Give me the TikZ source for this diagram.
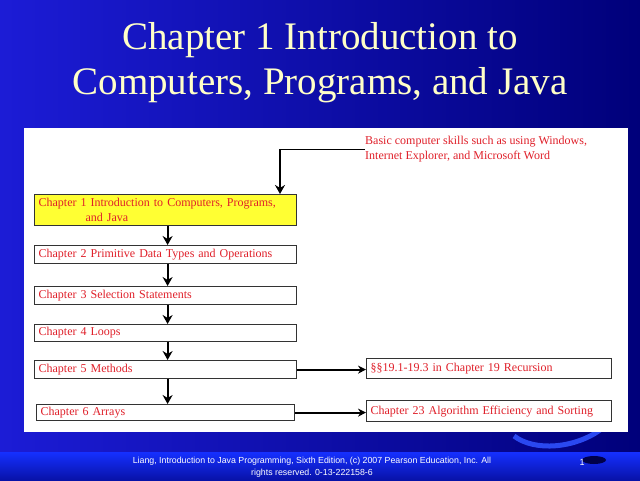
\documentclass[tikz,border=0pt]{standalone}
\usepackage{fontspec}
\setmainfont{Liberation Serif}
\newfontfamily\footfont{Liberation Sans}
\usetikzlibrary{arrows.meta}
\definecolor{bgleft}{HTML}{1C1CD6}
\definecolor{bgright}{HTML}{00007A}
\definecolor{titlecol}{HTML}{FFFFC8}
\definecolor{txtred}{HTML}{E0202A}
\definecolor{boxyellow}{HTML}{FFFF33}
\definecolor{bandtop}{HTML}{1530FF}
\definecolor{bandbot}{HTML}{0812A8}
\definecolor{swoosh}{HTML}{2A48F0}
\tikzset{
  chbox/.style={draw=black!80, line width=1.2pt, fill=white, anchor=north west,
    inner sep=0pt, font=\fontsize{12}{15}\selectfont, text=txtred},
  flowarrow/.style={line width=2pt, -{Stealth[length=9pt,width=10pt]}},
  sidearrow/.style={line width=1.8pt, -{Stealth[length=8pt,width=8pt]}},
  titletext/.style={text=titlecol, font=\fontsize{39}{45}\selectfont},
  foottext/.style={text=white, font=\footfont\fontsize{8.8}{12}\selectfont, align=center}
}
\begin{document}
\begin{tikzpicture}[x=1pt,y=-1pt]
\useasboundingbox (0,0) rectangle (640,480);
% background
\shade[left color=bgleft, right color=bgright] (0,0) rectangle (640,480);
\shade[top color=bandtop, bottom color=bandbot] (0,452) rectangle (640,480);
% swoosh
\draw[swoosh, line width=5pt] (514,436) .. controls (535,452) and (575,448) .. (600,430);
\fill[bgright!60!black] (594,460) ellipse (12pt and 4pt);
% title
\node[titletext] (t1) at (320,40) {Chapter 1 Introduction to};
\node[titletext] (t2) at (320,85) {Computers, Programs, and Java};
% white panel
\fill[white] (24,128) rectangle (628,432);
% chapter boxes
\node[chbox, fill=boxyellow, minimum width=262pt, minimum height=31pt, text width=258pt, align=left]
  (c1) at (34,194) {\hspace{2pt}Chapter 1 Introduction to Computers, Programs,\\\hspace{49pt}and Java};
\node[chbox, minimum width=262pt, minimum height=18pt, text width=258pt, align=left]
  (c2) at (34,245) {\hspace{2pt}Chapter 2 Primitive Data Types and Operations};
\node[chbox, minimum width=262pt, minimum height=18pt, text width=258pt, align=left]
  (c3) at (34,286) {\hspace{2pt}Chapter 3 Selection Statements};
\node[chbox, minimum width=262pt, minimum height=17pt, text width=258pt, align=left]
  (c4) at (34,324) {\hspace{2pt}Chapter 4 Loops};
\node[chbox, minimum width=262pt, minimum height=18pt, text width=258pt, align=left]
  (c5) at (34,360) {\hspace{2pt}Chapter 5 Methods};
\node[chbox, minimum width=258pt, minimum height=16pt, text width=254pt, align=left]
  (c6) at (36,404) {\hspace{2pt}Chapter 6 Arrays};
\node[chbox, minimum width=245pt, minimum height=20pt, text width=241pt, align=left]
  (r1) at (366,358) {\hspace{2pt}§§19.1-19.3 in Chapter 19 Recursion};
\node[chbox, minimum width=245pt, minimum height=21pt, text width=241pt, align=left]
  (r2) at (366,400) {\hspace{2pt}Chapter 23 Algorithm Efficiency and Sorting};
% prerequisite text
\node[anchor=north west, inner sep=0pt, text=txtred, align=left, font=\fontsize{12}{15}\selectfont]
  (basic) at (365,136) {Basic computer skills such as using Windows,\\Internet Explorer, and Microsoft Word};
\coordinate (tp) at (280,149);
\coordinate (te) at (365,149);
\draw[line width=1pt] (te) -- (tp);
\draw[flowarrow] (tp) -- (tp |- c1.north);
% flow arrows
\draw[flowarrow] ([xshift=2pt]c1.south) -- ([xshift=2pt]c2.north);
\draw[flowarrow] ([xshift=2pt]c2.south) -- ([xshift=2pt]c3.north);
\draw[flowarrow] ([xshift=2pt]c3.south) -- ([xshift=2pt]c4.north);
\draw[flowarrow] ([xshift=2pt]c4.south) -- ([xshift=2pt]c5.north);
\draw[flowarrow] ([xshift=2pt]c5.south) -- ([xshift=2pt]c5.south |- c6.north);
\draw[sidearrow] (c5.east) -- (c5.east -| r1.west);
\draw[sidearrow] (c6.east) -- (c6.east -| r2.west);
% footer
\node[foottext] (foot) at (312,467) {Liang, Introduction to Java Programming, Sixth Edition, (c) 2007 Pearson Education, Inc. All\\rights reserved. 0-13-222158-6};
\node[text=white, font=\footfont\fontsize{9}{10}\selectfont] (pg) at (582,462) {1};
\end{tikzpicture}
\end{document}
